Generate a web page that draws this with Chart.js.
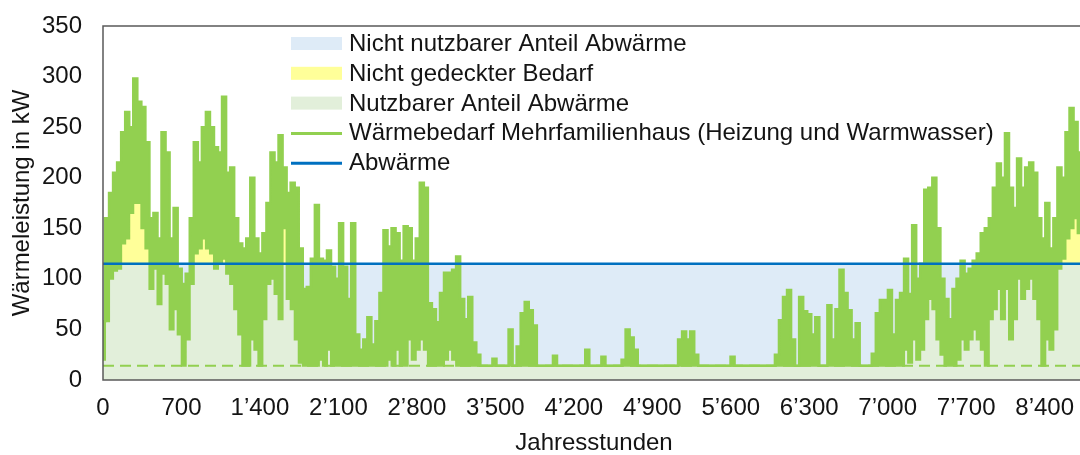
<!DOCTYPE html>
<html>
<head>
<meta charset="utf-8">
<script src="https://cdn.jsdelivr.net/npm/chart.js@4.4.1/dist/chart.umd.min.js"></script>
<style>
  html, body { margin: 0; padding: 0; background: #fff; overflow: hidden; }
  #wrap { width: 1090px; height: 455px; }
</style>
</head>
<body>
<div id="wrap"><canvas id="heatChart" width="1090" height="455"></canvas></div>
<script>
// one value pair per 36-hour block: upper and lower edge of the hourly demand curve (kW)
const hourStep = 36;
const demandMax = [
  58, 160, 185, 205, 215, 245, 265, 250, 298, 275, 270, 235, 160, 165, 140, 245, 225, 140, 170, 110,
  95, 105, 160, 235, 215, 250, 265, 250, 230, 225, 280, 205, 210, 160, 135, 130, 140, 200, 140, 125,
  145, 175, 225, 215, 242, 210, 185, 195, 190, 130, 90, 92, 120, 173, 120, 118, 128, 112, 100, 155,
  112, 80, 155, 45, 30, 40, 62, 35, 58, 86, 148, 132, 150, 145, 118, 152, 150, 118, 140, 195,
  190, 76, 70, 57, 86, 106, 106, 109, 122, 80, 60, 82, 37, 25, 14, 14, 14, 21, 14, 14,
  14, 50, 14, 33, 66, 77, 69, 54, 14, 14, 14, 14, 24, 14, 14, 14, 14, 14, 14, 14,
  30, 14, 14, 14, 23, 14, 14, 14, 14, 20, 50, 42, 30, 14, 14, 14, 14, 14, 14, 14,
  14, 14, 14, 40, 48, 40, 48, 25, 14, 14, 14, 14, 14, 14, 14, 14, 23, 14, 14, 14,
  14, 14, 14, 14, 14, 14, 14, 25, 59, 82, 89, 40, 14, 82, 68, 65, 45, 62, 14, 14,
  74, 40, 70, 109, 86, 69, 40, 56, 14, 14, 14, 26, 66, 79, 79, 89, 45, 79, 86, 120,
  85, 153, 100, 115, 188, 190, 200, 150, 100, 80, 60, 90, 100, 118, 105, 110, 118, 125, 145, 150,
  160, 190, 214, 200, 244, 190, 170, 219, 190, 210, 215, 205, 160, 140, 175, 130, 160, 210, 200, 245,
  269, 255, 225, 200
];
const demandMin = [
  20, 58, 100, 108, 110, 135, 140, 165, 175, 175, 150, 130, 90, 110, 75, 105, 95, 50, 70, 45,
  14, 40, 95, 125, 130, 140, 130, 125, 110, 115, 120, 105, 95, 70, 45, 14, 14, 40, 30, 14,
  60, 95, 100, 85, 60, 150, 80, 70, 40, 17, 14, 14, 14, 14, 20, 14, 30, 14, 14, 14,
  14, 14, 14, 14, 14, 14, 14, 14, 14, 14, 14, 20, 14, 30, 14, 14, 40, 20, 30, 40,
  30, 14, 14, 14, 14, 20, 30, 20, 14, 14, 14, 14, 14, 14, 14, 14, 14, 14, 14, 14,
  14, 14, 14, 14, 14, 14, 14, 14, 14, 14, 14, 14, 14, 14, 14, 14, 14, 14, 14, 14,
  14, 14, 14, 14, 14, 14, 14, 14, 14, 14, 14, 14, 14, 14, 14, 14, 14, 14, 14, 14,
  14, 14, 14, 14, 14, 14, 14, 14, 14, 14, 14, 14, 14, 14, 14, 14, 14, 14, 14, 14,
  14, 14, 14, 14, 14, 14, 14, 14, 14, 14, 14, 14, 14, 14, 14, 14, 14, 14, 14, 14,
  14, 14, 14, 14, 14, 14, 14, 14, 14, 14, 14, 14, 14, 14, 14, 14, 14, 14, 14, 30,
  17, 40, 20, 30, 60, 80, 70, 40, 25, 14, 14, 14, 20, 40, 30, 40, 50, 40, 30, 14,
  60, 70, 90, 60, 90, 40, 60, 100, 80, 90, 100, 80, 60, 14, 40, 30, 50, 110, 120, 140,
  150, 160, 145, 120
];
const wasteHeat = 115;   // Abwärme, kW
const baseLoad = 14;     // dashed minimum line, kW
const yearHours = 8760;
const xTicks = [0, 700, 1400, 2100, 2800, 3500, 4200, 4900, 5600, 6300, 7000, 7700, 8400];
const xTickLabels = ['0', '700', '1’400', '2’100', '2’800', '3’500', '4’200', '4’900', '5’600', '6’300', '7’000', '7’700', '8’400'];
const legendLabels = [
  'Nicht nutzbarer Anteil Abwärme',
  'Nicht gedeckter Bedarf',
  'Nutzbarer Anteil Abwärme',
  'Wärmebedarf Mehrfamilienhaus (Heizung und Warmwasser)',
  'Abwärme'
];

const FONT = '"Liberation Sans", Arial, sans-serif';
const FSIZE = 24;
const TXT = '#141414';
const colLightBlue = '#DEEBF7';
const colYellow = '#FFFF99';
const colLightGreen = '#E2EFDA';
const colGreen = '#92D050';
const colBlue = '#0070C0';

const toPoints = (arr) => arr.map((v, i) => ({x: i * hourStep, y: v}));
const upperPts = toPoints(demandMax);
const lowerPts = toPoints(demandMin);
const usablePts = toPoints(demandMin.map(v => Math.min(v, wasteHeat)));
const uncoveredPts = toPoints(demandMin.map(v => Math.max(v, wasteHeat)));
const flat = (v) => [{x: 0, y: v}, {x: yearHours, y: v}];

const legendPlugin = {
  id: 'boxLegend',
  afterDraw(chart) {
    const ctx = chart.ctx;
    const kinds = [['box', colLightBlue], ['box', colYellow], ['box', colLightGreen], ['line', colGreen], ['line', colBlue]];
    ctx.save();
    ctx.font = FSIZE + 'px ' + FONT;
    ctx.textBaseline = 'alphabetic';
    legendLabels.forEach((txt, k) => {
      const base = 51 + k * 29.8;
      const [kind, col] = kinds[k];
      if (kind === 'box') {
        ctx.fillStyle = col;
        ctx.fillRect(291, base - 14, 51, 13);
      } else {
        ctx.strokeStyle = col;
        ctx.lineWidth = 3;
        ctx.beginPath();
        ctx.moveTo(291, base - 7);
        ctx.lineTo(342, base - 7);
        ctx.stroke();
      }
      ctx.fillStyle = TXT;
      ctx.fillText(txt, 349, base);
    });
    ctx.restore();
  }
};

const framePlugin = {
  id: 'frame',
  afterDatasetsDraw(chart) {
    const {ctx, chartArea: a} = chart;
    ctx.save();
    ctx.strokeStyle = '#595959';
    ctx.lineWidth = 1.5;
    ctx.strokeRect(a.left, a.top, a.right - a.left, a.bottom - a.top);
    ctx.restore();
  }
};

new Chart(document.getElementById('heatChart').getContext('2d'), {
  type: 'line',
  data: {
    datasets: [
      {label: 'Abwärme', data: flat(wasteHeat), borderColor: colBlue, borderWidth: 2.5, fill: false, order: 0},
      {label: 'Wärmebedarf oben', data: upperPts, stepped: 'middle', borderColor: colGreen, backgroundColor: colGreen, borderWidth: 2.5, fill: 2, order: 1},
      {label: 'Wärmebedarf unten', data: lowerPts, stepped: 'middle', borderColor: colGreen, borderWidth: 2, fill: false, order: 2},
      {label: 'Grundlast', data: flat(baseLoad), borderColor: colGreen, borderWidth: 2, borderDash: [11, 6], fill: false, order: 3},
      {label: 'Nicht gedeckter Bedarf', data: uncoveredPts, stepped: 'middle', borderWidth: 0, borderColor: 'rgba(0,0,0,0)', backgroundColor: colYellow, fill: {value: wasteHeat}, order: 4},
      {label: 'Nutzbarer Anteil Abwärme', data: usablePts, stepped: 'middle', borderWidth: 0, borderColor: 'rgba(0,0,0,0)', backgroundColor: colLightGreen, fill: 'origin', order: 5},
      {label: 'Nicht nutzbarer Anteil Abwärme', data: flat(wasteHeat), borderWidth: 0, borderColor: 'rgba(0,0,0,0)', backgroundColor: colLightBlue, fill: 'origin', order: 6}
    ]
  },
  options: {
    responsive: false,
    animation: false,
    layout: {padding: {top: 26, right: 5, left: 0, bottom: 0}},
    elements: {point: {radius: 0}, line: {tension: 0}},
    plugins: {legend: {display: false}, tooltip: {enabled: false}},
    scales: {
      x: {
        type: 'linear',
        min: 0,
        max: yearHours,
        afterBuildTicks: (s) => { s.ticks = xTicks.map(v => ({value: v})); },
        afterFit: (s) => { s.height = 75; },
        grid: {display: false, drawTicks: false},
        border: {display: false},
        ticks: {
          padding: 14,
          color: TXT,
          font: {family: FONT, size: FSIZE},
          maxRotation: 0,
          autoSkip: false,
          callback: (v) => xTickLabels[xTicks.indexOf(v)]
        },
        title: {display: true, text: 'Jahresstunden', color: TXT, font: {family: FONT, size: FSIZE, lineHeight: 0.95}, padding: 0}
      },
      y: {
        min: 0,
        max: 350,
        afterFit: (s) => { s.width = 103; },
        // tick marks are hidden, their length only pushes the labels away from the frame
        grid: {display: false, drawTicks: true, tickLength: 19},
        border: {display: false},
        ticks: {stepSize: 50, padding: 2, color: TXT, font: {family: FONT, size: FSIZE}},
        title: {display: true, text: 'Wärmeleistung in kW', color: TXT, font: {family: FONT, size: FSIZE}, padding: {top: 8, bottom: 0}}
      }
    }
  },
  plugins: [legendPlugin, framePlugin]
});
</script>
</body>
</html>
